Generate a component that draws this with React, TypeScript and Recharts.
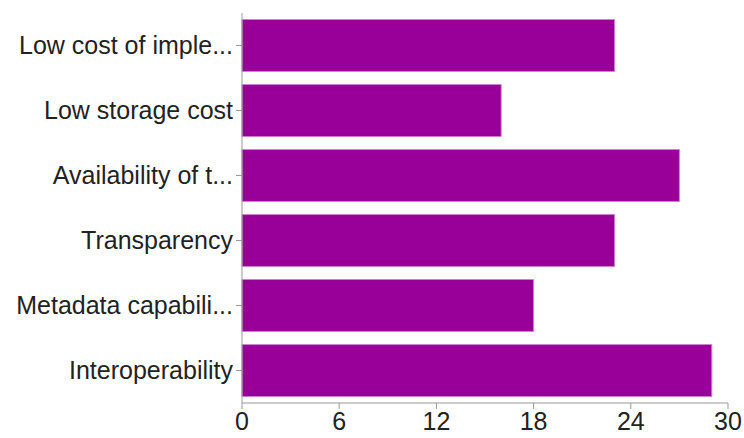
import { Bar, BarChart, XAxis, YAxis } from "recharts";

const categories = [
  "Low cost of imple...",
  "Low storage cost",
  "Availability of t...",
  "Transparency",
  "Metadata capabili...",
  "Interoperability",
];
const counts = [23, 16, 27, 23, 18, 29];
const xTicks = [0, 6, 12, 18, 24, 30];

const data = categories.map((name, i) => ({ name, count: counts[i] }));

const tickStyle = { fill: "#222", fontSize: 25, fontFamily: "Liberation Sans, Arial, sans-serif" };

export default function App() {
  return (
    <div style={{ position: "absolute", left: 0, top: 0, width: 744, height: 438, background: "#fff" }}>
      <BarChart
        width={744}
        height={438}
        data={data}
        layout="vertical"
        margin={{ top: 13, right: 16, bottom: 0, left: 0 }}
        barCategoryGap="10%"
      >
        <XAxis
          type="number"
          domain={[0, 30]}
          ticks={xTicks}
          tick={tickStyle}
          stroke="#999"
          tickSize={6}
          tickMargin={3}
          height={35}
        />
        <YAxis
          type="category"
          dataKey="name"
          width={242}
          tick={tickStyle}
          stroke="#999"
          tickSize={6}
          tickMargin={3}
        />
        <Bar dataKey="count" fill="#990099" stroke="#d17fd1" strokeWidth={1} isAnimationActive={false} />
      </BarChart>
    </div>
  );
}
